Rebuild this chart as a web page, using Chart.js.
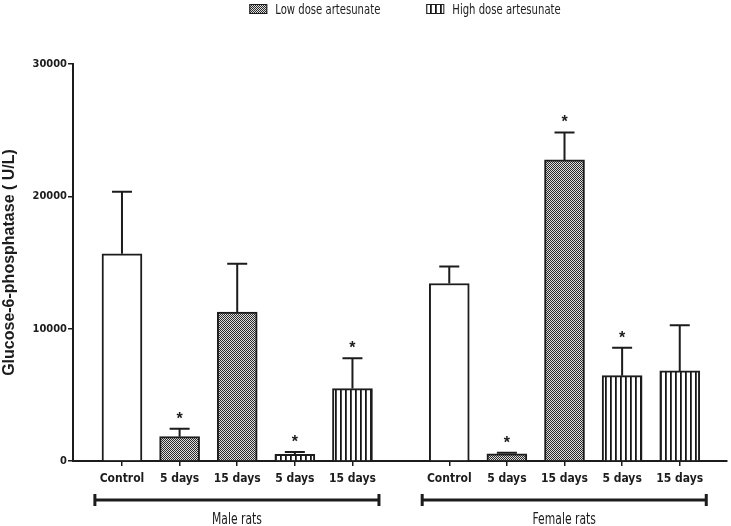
<!DOCTYPE html>
<html>
<head>
<meta charset="utf-8">
<script src="https://cdn.jsdelivr.net/npm/chart.js@4"></script>
<style>
  html, body { margin: 0; padding: 0; background: #fff; }
</style>
</head>
<body>
<canvas id="g6p" width="731" height="526"></canvas>
<script>
// Glucose-6-phosphatase (U/L), mean + SEM
const groups     = ['Male rats', 'Female rats'];
const tickLabels = ['Control', '5 days', '15 days', '5 days', '15 days'];
const treatment  = ['control', 'low', 'low', 'high', 'high'];

const maleMean   = [15660, 1840, 11250, 510, 5470];
const maleSem    = [4690,  600,  3650,  170, 2300];
const maleStar   = [false, true, false, true, true];

const femaleMean = [13410, 550, 22750, 6450, 6810];
const femaleSem  = [1290,  80,  2080,  2100, 3450];
const femaleStar = [false, true, true, true, false];

const yTicks = [0, 10000, 20000, 30000];

const NARROW = '"DejaVu Sans Condensed", "Liberation Sans Narrow", Arial, sans-serif';
const SANS   = '"Liberation Sans", Arial, sans-serif';
const INK    = '#1c1c1c';
const GROUP_STEP = 5.68;   // slot offset between male and female blocks
const SQUEEZE = 0.8;       // horizontal squeeze for the narrow caption text

const canvas = document.getElementById('g6p');
const ctx = canvas.getContext('2d');

// fill patterns
function checkPattern() {
  const c = document.createElement('canvas');
  c.width = 4; c.height = 4;
  const g = c.getContext('2d');
  g.fillStyle = '#dedede';
  g.fillRect(0, 0, 4, 4);
  g.fillStyle = '#2a2a2a';
  for (let y = 0; y < 4; y++)
    for (let x = 0; x < 4; x++)
      if ((x + y) % 2 === 0) g.fillRect(x, y, 1, 1);
  return ctx.createPattern(c, 'repeat');
}
function stripePattern() {
  const c = document.createElement('canvas');
  c.width = 5; c.height = 1;
  const g = c.getContext('2d');
  g.fillStyle = '#fff';
  g.fillRect(0, 0, 5, 1);
  g.fillStyle = '#151515';
  g.fillRect(0, 0, 1, 1);
  g.fillStyle = '#4a4a4a';
  g.fillRect(1, 0, 1, 1);
  return ctx.createPattern(c, 'repeat');
}
const fills = { control: '#ffffff', low: checkPattern(), high: stripePattern() };

// flatten groups into bars
const means = [maleMean, femaleMean];
const sems  = [maleSem, femaleSem];
const stars = [maleStar, femaleStar];
const slots = [], points = [], barSem = [], barStar = [], barFill = [], barLabels = [];
means.forEach((arr, g) => {
  arr.forEach((v, i) => {
    const x = i + g * GROUP_STEP;
    slots.push(x);
    points.push({ x: x, y: v });
    barSem.push(sems[g][i]);
    barStar.push(stars[g][i]);
    barFill.push(fills[treatment[i]]);
    barLabels.push(tickLabels[i]);
  });
});

// narrow text helper (no narrow face installed, so squeeze horizontally)
function narrowText(c, text, x, y, align) {
  c.save();
  c.translate(x, y);
  c.scale(SQUEEZE, 1);
  c.textAlign = align;
  c.fillText(text, 0, 0);
  c.restore();
}

// error bars (upper only) + significance asterisks
const errorBars = {
  id: 'errorBars',
  afterDatasetsDraw(chart) {
    const c = chart.ctx;
    const ys = chart.scales.y;
    const meta = chart.getDatasetMeta(0);
    c.save();
    c.strokeStyle = INK;
    c.fillStyle = INK;
    c.lineWidth = 2;
    meta.data.forEach((bar, i) => {
      const top = ys.getPixelForValue(points[i].y + barSem[i]);
      c.beginPath();
      c.moveTo(bar.x, bar.y);
      c.lineTo(bar.x, top);
      c.moveTo(bar.x - 10, top);
      c.lineTo(bar.x + 10, top);
      c.stroke();
      if (barStar[i]) {
        c.font = 'bold 16px ' + SANS;
        c.textAlign = 'center';
        c.textBaseline = 'alphabetic';
        c.fillText('*', bar.x, top - 5);
      }
    });
    c.restore();
  }
};

// group brackets under the x axis
const brackets = {
  id: 'brackets',
  afterDraw(chart) {
    const c = chart.ctx;
    const xs = chart.scales.x;
    const y = 500;
    c.save();
    c.strokeStyle = INK;
    c.fillStyle = INK;
    c.lineWidth = 3;
    groups.forEach((name, g) => {
      const first = slots[g * tickLabels.length];
      const last = slots[g * tickLabels.length + tickLabels.length - 1];
      const x1 = xs.getPixelForValue(first - 0.47);
      const x2 = xs.getPixelForValue(last + 0.46);
      c.beginPath();
      c.moveTo(x1, y); c.lineTo(x2, y);
      c.moveTo(x1, y - 6); c.lineTo(x1, y + 6);
      c.moveTo(x2, y - 6); c.lineTo(x2, y + 6);
      c.stroke();
      c.font = '15px ' + NARROW;
      c.textBaseline = 'middle';
      narrowText(c, name, (x1 + x2) / 2, y + 20, 'center');
    });
    c.restore();
  }
};

// legend: only the two treatment patterns
const legendTop = {
  id: 'legendTop',
  afterDraw(chart) {
    const c = chart.ctx;
    const items = [['Low dose artesunate', fills.low], ['High dose artesunate', fills.high]];
    c.save();
    c.font = '14px ' + NARROW;
    c.textBaseline = 'middle';
    const widths = items.map(it => 18 + 8 + c.measureText(it[0]).width * SQUEEZE);
    const total = widths[0] + 46 + widths[1];
    const mid = (chart.chartArea.left + chart.chartArea.right) / 2 + 5;
    let x = mid - total / 2;
    items.forEach((it, k) => {
      c.fillStyle = it[1];
      c.fillRect(x, 4, 18, 10);
      c.strokeStyle = INK;
      c.lineWidth = 1;
      c.strokeRect(x + 0.5, 4.5, 17, 9);
      c.fillStyle = INK;
      narrowText(c, it[0], x + 26, 10, 'left');
      x += widths[k] + 46;
    });
    c.restore();
  }
};

new Chart(ctx, {
  type: 'bar',
  data: {
    datasets: [{
      data: points,
      backgroundColor: barFill,
      borderColor: INK,
      borderWidth: 2,
      barThickness: 40
    }]
  },
  options: {
    responsive: false,
    animation: false,
    layout: { padding: { top: 64, right: 4, left: 0, bottom: 0 } },
    plugins: { legend: { display: false }, tooltip: { enabled: false } },
    scales: {
      x: {
        type: 'linear',
        offset: false,
        min: -0.85,
        max: 10.5,
        afterBuildTicks: axis => { axis.ticks = slots.map(v => ({ value: v })); },
        afterFit: axis => { axis.height = 65; },
        grid: { offset: false, drawOnChartArea: false, drawTicks: true, tickLength: 5, color: INK, lineWidth: 1.5 },
        border: { color: INK, width: 2 },
        ticks: {
          autoSkip: false,
          maxRotation: 0,
          padding: 6,
          color: INK,
          font: { family: NARROW, size: 12, weight: 'bold' },
          callback: (v, i) => barLabels[i]
        }
      },
      y: {
        min: 0,
        max: 30000,
        afterBuildTicks: axis => { axis.ticks = yTicks.map(v => ({ value: v })); },
        afterFit: axis => { axis.width = 73; },
        grid: { drawOnChartArea: false, drawTicks: true, tickLength: 5, color: INK, lineWidth: 1.5 },
        border: { color: INK, width: 2 },
        ticks: {
          padding: 1,
          color: INK,
          font: { family: NARROW, size: 11, weight: 'bold' },
          callback: v => String(v)
        },
        title: {
          display: true,
          text: 'Glucose-6-phosphatase ( U/L)',
          color: INK,
          padding: { top: 0, bottom: 0 },
          font: { family: SANS, size: 16, weight: 'bold' }
        }
      }
    }
  },
  plugins: [errorBars, brackets, legendTop]
});
</script>
</body>
</html>
